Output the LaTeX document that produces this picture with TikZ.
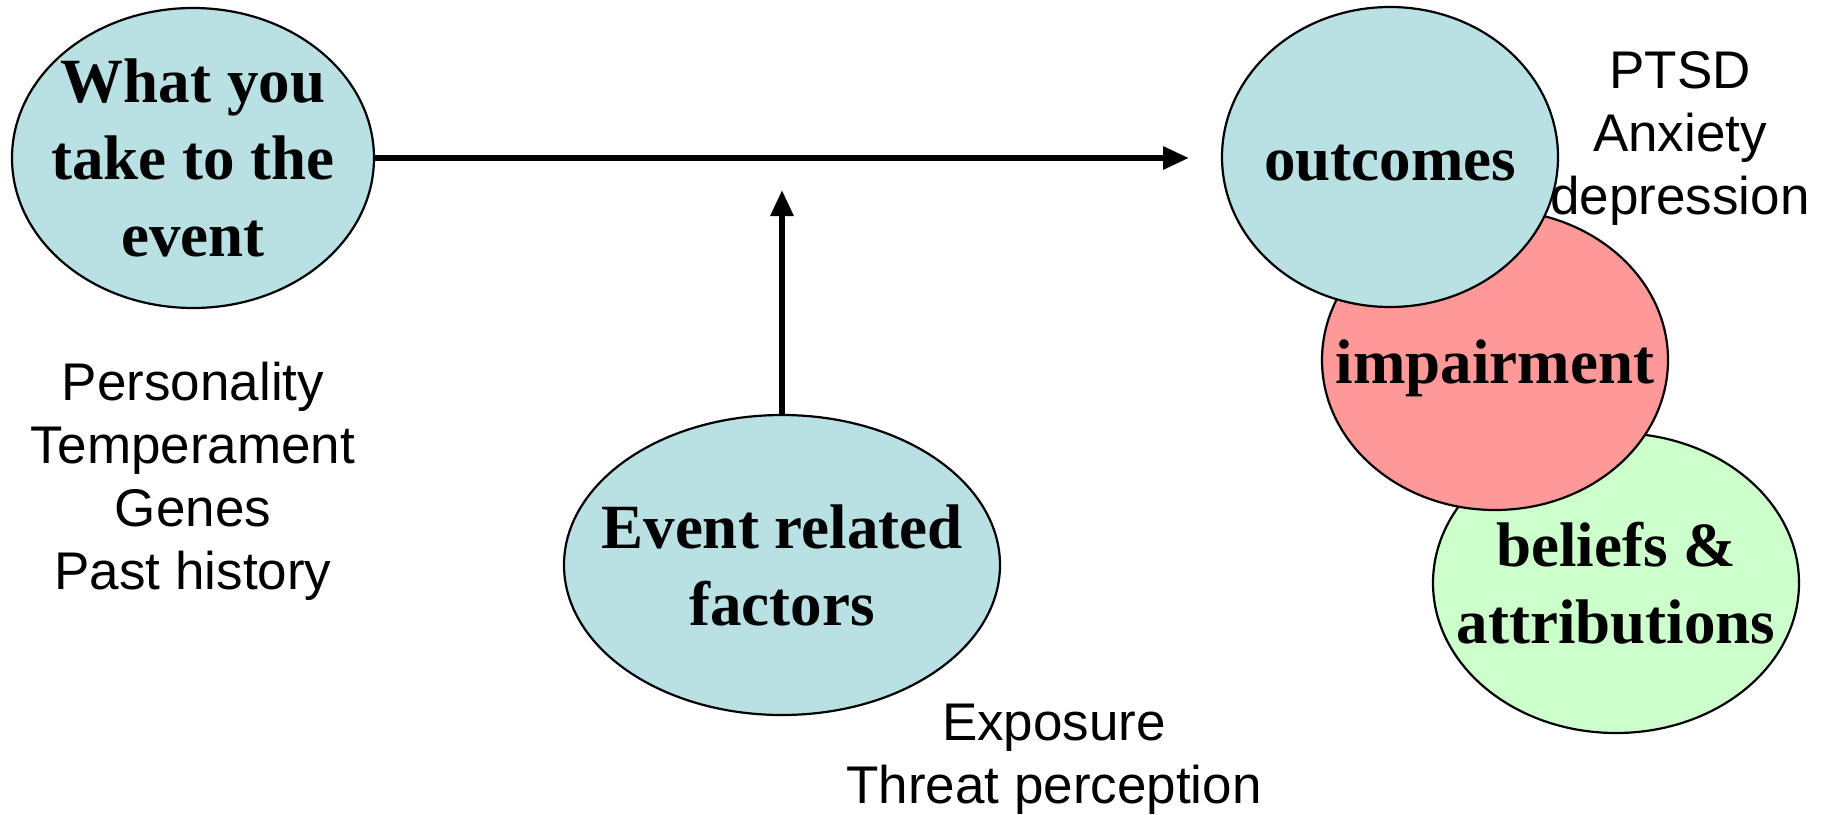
\documentclass[tikz,border=0pt]{standalone}
\usepackage{fontspec}
\setmainfont{Liberation Serif}
\newfontfamily\notefont{Liberation Sans}
\usetikzlibrary{arrows.meta, shapes.geometric}
\definecolor{calmblue}{HTML}{B9E0E3}
\definecolor{impairpink}{HTML}{FF9999}
\definecolor{beliefgreen}{HTML}{CCFFCC}

\begin{document}
\begin{tikzpicture}[x=1pt, y=-1pt,% picture measured in pixels, y downwards
          > = {Triangle[length=26pt, width=22pt]},
bubble/.style = {ellipse, draw, line width=2.2pt,
                 minimum height=300pt, inner sep=0pt, outer sep=0pt},
heading/.style = {inner sep=0pt, align=center,
                  font=\bfseries\fontsize{63}{77}\selectfont},
note/.style = {inner sep=0pt, align=center,
               font=\notefont\fontsize{53}{63}\selectfont},
link/.style = {->, line width=6pt}
                    ]
	\useasboundingbox (0,0) rectangle (1831,814);

	% the ellipses
	\node[bubble, minimum width=362pt, fill=calmblue] (take) at (193,158) {};
	\node[bubble, minimum width=436pt, fill=calmblue] (event) at (782,565) {};
	\node[bubble, minimum width=366pt, fill=beliefgreen] (beliefs) at (1616,583) {};
	\node[bubble, minimum width=346pt, fill=impairpink] (impair) at (1495,360) {};
	\node[bubble, minimum width=336pt, fill=calmblue] (outcomes) at (1390,157) {};

	\node[heading] (take text) at (take) {What you\\take to the\\event};
	\node[heading] (event text) at (event) {Event related\\factors};
	\node[heading] (beliefs text) at (beliefs) {beliefs \&\\attributions};
	\node[heading, anchor=base] (impair text) at (1495,383) {impairment};
	\node[heading, anchor=base] (outcomes text) at (1390,180) {outcomes};

	% side notes
	\node[note] (take note) at (193,481) {Personality\\Temperament\\Genes\\Past history};
	\node[note] (outcomes note) at (1680,138) {PTSD\\Anxiety\\depression};
	\node[note] (event note) at (1054,759) {Exposure\\Threat perception};

	% arrows
	\coordinate (h tip) at (1189,158);
	\coordinate (v tip) at (782,190);
	\draw[link] (take.east) -- (h tip);
	\draw[link] (event.north) -- (v tip);
\end{tikzpicture}
\end{document}
